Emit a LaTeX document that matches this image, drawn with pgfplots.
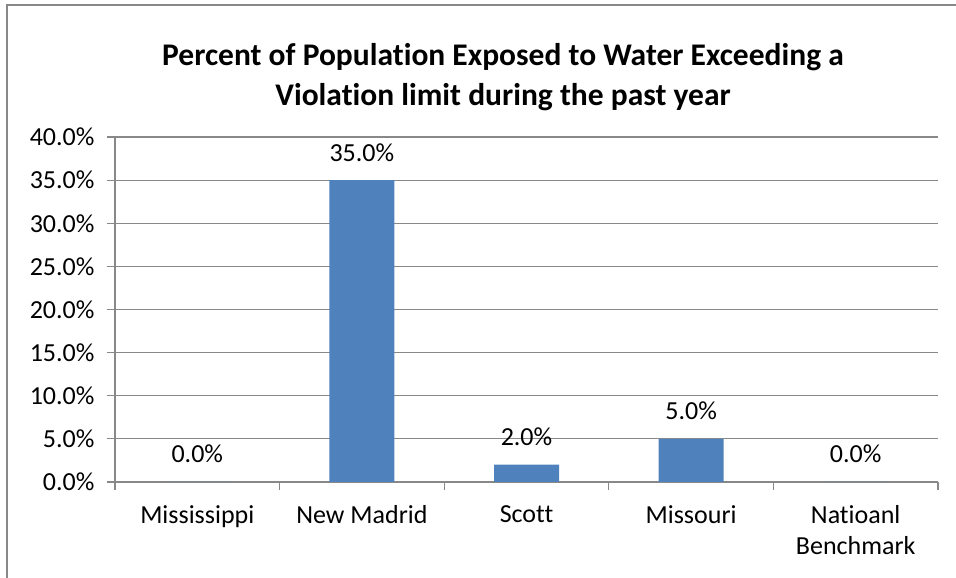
\documentclass[border=0pt]{standalone}
\usepackage{pgfplots}
\pgfplotsset{compat=1.18}
\usepackage{fontspec}
\setmainfont{Carlito}[Ligatures=NoCommon]
\definecolor{barblue}{HTML}{4F81BD}
\definecolor{gridgray}{HTML}{888888}
\begin{document}
\begin{tikzpicture}[x=1pt,y=1pt]
\useasboundingbox (0,0) rectangle (956,578);
\draw[gridgray, line width=1.2pt] (7,-5) -- (7,573) -- (960,573);
\node[font=\fontsize{31.5}{40}\selectfont\bfseries, align=center] at (503,501) {Percent of Population Exposed to Water Exceeding a\\Violation limit during the past year};
\begin{axis}[
  at={(115pt,96pt)}, anchor=south west,
  scale only axis, width=823pt, height=345pt,
  xmin=-0.5, xmax=4.5, ymin=0, ymax=40,
  axis x line*=bottom, axis y line*=left,
  axis line style={gridgray, line width=1.2pt},
  ytick={0,5,...,40},
  yticklabel={\pgfmathprintnumber[fixed,fixed zerofill,precision=1]{\tick}\%},
  yticklabel style={font=\fontsize{26}{31}\selectfont, xshift=-9pt},
  /pgf/number format/assume math mode=true,
  ymajorgrids, grid style={gridgray, line width=1.2pt},
  major y tick style={gridgray, line width=1.2pt},
  ytick align=outside, major tick length=8pt,
  xtick={0,1,2,3,4},
  xticklabels={Mississippi,New Madrid,Scott,Missouri,{Natioanl\\Benchmark}},
  xticklabel style={font=\fontsize{26}{31}\selectfont, align=center, anchor=north, yshift=-12pt},
  major x tick style={draw=none},
  minor xtick={-0.5,0.5,1.5,2.5,3.5,4.5},
  minor x tick style={gridgray, line width=1.2pt},
  xtick align=outside, minor tick length=8pt,
  ybar, bar width=65pt,
  nodes near coords={\pgfmathprintnumber[fixed,fixed zerofill,precision=1]{\pgfplotspointmeta}\%},
  every node near coord/.append style={font=\fontsize{26}{31}\selectfont, anchor=base, yshift=19pt, text=black},
]
\addplot[fill=barblue, draw=none] coordinates {(0,0) (1,35) (2,2) (3,5) (4,0)};
\end{axis}
\end{tikzpicture}
\end{document}
